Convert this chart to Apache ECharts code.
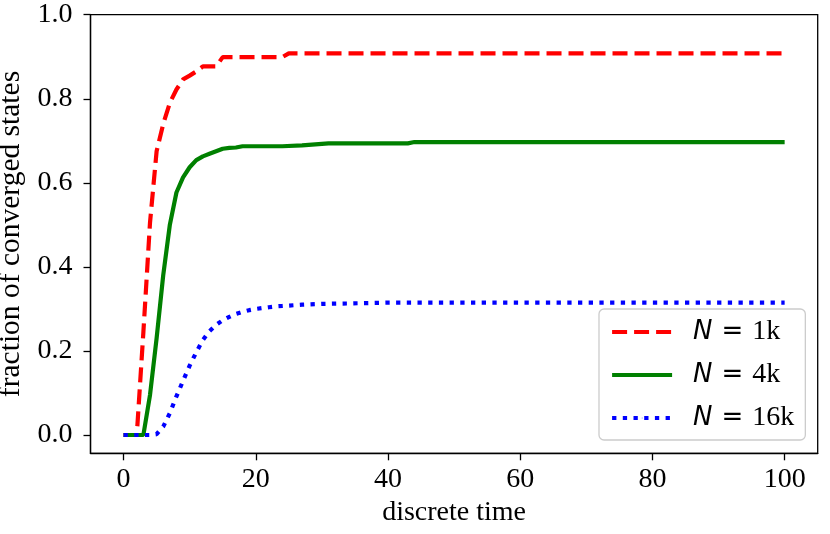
<!DOCTYPE html>
<html>
<head>
<meta charset="utf-8">
<script src="https://cdn.jsdelivr.net/npm/echarts@6/dist/echarts.min.js"></script>
<style>html,body{margin:0;padding:0;background:#fff;}#c{width:830px;height:534px;}</style>
</head>
<body>
<div id="c"></div>
<script>
// ---- data ----
const seriesNames = ['1k', '4k', '16k'];

const timeN1k  = [0, 1, 2, 3, 4, 5, 6, 7, 8, 9, 10, 11, 12, 13, 14, 15, 24, 25, 100];
const valueN1k = [0, 0, 0, 0.245, 0.505, 0.675, 0.74, 0.79, 0.822, 0.846, 0.855, 0.865, 0.877, 0.877, 0.877, 0.899, 0.899, 0.908, 0.908];

const timeN4k  = [0, 1, 2, 3, 4, 5, 6, 7, 8, 9, 10, 11, 12, 13, 14, 15, 16, 17, 18, 24, 27, 31, 43, 44, 100];
const valueN4k = [0, 0, 0, 0, 0.095, 0.23, 0.38, 0.5, 0.577, 0.613, 0.637, 0.654, 0.663, 0.669, 0.675, 0.681, 0.683, 0.684, 0.687, 0.687, 0.689, 0.694, 0.694, 0.697, 0.697];

const timeN16k  = [0, 1, 2, 3, 4, 5, 6, 7, 8, 9, 10, 11, 12, 13, 14, 15, 16, 17, 18, 19, 20, 21, 22, 23, 24, 25, 26, 27, 30, 34, 40, 100];
const valueN16k = [0, 0, 0, 0, 0, 0.002, 0.02, 0.052, 0.092, 0.129, 0.165, 0.197, 0.226, 0.247, 0.262, 0.273, 0.281, 0.288, 0.293, 0.297, 0.300, 0.302, 0.304, 0.306, 0.307, 0.308, 0.309, 0.310, 0.312, 0.313, 0.315, 0.315];

const xTicks = [0, 20, 40, 60, 80, 100];
const yTicks = [0, 0.2, 0.4, 0.6, 0.8, 1.0];

const xLabel = 'discrete time';
const yLabel = 'fraction of converged states';

// ---- build ----
function pairs(t, v) { return t.map((x, i) => [x, v[i]]); }

const serif = 'Liberation Serif';
const chart = echarts.init(document.getElementById('c'), null, {renderer: 'canvas'});

const lineStyles = [
  {color: '#ff0000', width: 4.2, type: [15, 7], cap: 'butt'},
  {color: '#008000', width: 4.2, type: 'solid', cap: 'butt'},
  {color: '#0000ff', width: 4.2, type: [4.3, 6.4], cap: 'butt'}
];
const datasets = [pairs(timeN1k, valueN1k), pairs(timeN4k, valueN4k), pairs(timeN16k, valueN16k)];

chart.setOption({
  animation: false,
  backgroundColor: '#ffffff',
  grid: {
    left: 90.5, right: 12.3, top: 14.7, bottom: 80.7,
    containLabel: false, outerBoundsMode: 'none',
    show: true, borderColor: '#000', borderWidth: 1.3, backgroundColor: 'transparent'
  },
  xAxis: {
    type: 'value', min: -5, max: 105,
    name: xLabel, nameLocation: 'middle', nameGap: 44,
    nameTextStyle: {fontFamily: serif, fontSize: 28, color: '#000'},
    axisLine: {show: true, onZero: false, lineStyle: {color: '#000', width: 1.3}},
    axisTick: {show: true, inside: false, length: 7, lineStyle: {color: '#000', width: 1.3}, customValues: xTicks},
    axisLabel: {margin: 12, fontFamily: serif, fontSize: 28, color: '#000', customValues: xTicks,
      formatter: v => String(Math.round(v))},
    splitLine: {show: false}
  },
  yAxis: {
    type: 'value', min: -0.0435, max: 1.0,
    name: yLabel, nameLocation: 'middle', nameGap: 57.5, nameRotate: 90,
    nameTextStyle: {fontFamily: serif, fontSize: 29.5, color: '#000'},
    axisLine: {show: true, onZero: false, lineStyle: {color: '#000', width: 1.3}},
    axisTick: {show: true, inside: false, length: 7, lineStyle: {color: '#000', width: 1.3}, customValues: yTicks},
    axisLabel: {margin: 18, fontFamily: serif, fontSize: 28, color: '#000', customValues: yTicks,
      formatter: v => Number(v).toFixed(1)},
    splitLine: {show: false}
  },
  legend: {
    orient: 'vertical',
    left: 599, top: 309,
    itemWidth: 60, itemHeight: 1, itemGap: 15,
    padding: [9, 11, 8, 11],
    backgroundColor: 'rgba(255,255,255,0.8)',
    borderColor: '#cccccc', borderWidth: 1.3, borderRadius: 5,
    data: seriesNames,
    lineStyle: {width: 4.2},
    formatter: name => '{i|N}{e|=}{r|' + name + '}',
    textStyle: {
      color: '#000',
      rich: {
        i: {fontFamily: 'DejaVu Sans', fontStyle: 'italic', fontSize: 26, lineHeight: 30, padding: [0, 0, 0, 16]},
        e: {fontFamily: 'DejaVu Sans', fontSize: 26, lineHeight: 30, padding: [0, 9, 0, 9]},
        r: {fontFamily: serif, fontSize: 28, lineHeight: 30}
      }
    }
  },
  series: seriesNames.map((n, i) => ({
    name: n,
    type: 'line',
    data: datasets[i],
    symbol: 'none',
    showSymbol: false,
    smooth: false,
    lineStyle: lineStyles[i],
    itemStyle: {color: lineStyles[i].color},
    z: 2 + i
  }))
});
</script>
</body>
</html>
